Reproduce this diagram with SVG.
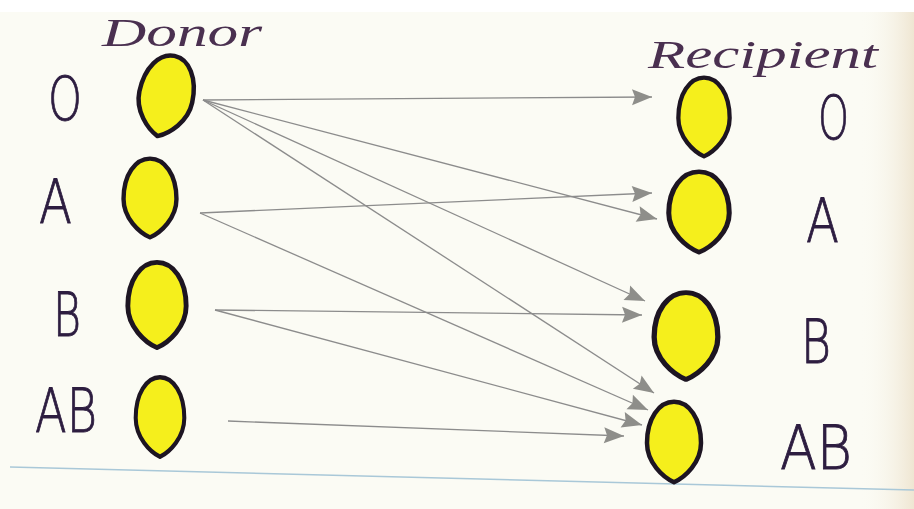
<svg xmlns="http://www.w3.org/2000/svg" width="914" height="509" viewBox="0 0 914 509">
<defs>
<style>
.hand{font-family:"DejaVu Sans","Liberation Sans",sans-serif;font-weight:300;font-size:60px;fill:#2d1d40;stroke:#2d1d40;stroke-width:0.9;}
.title{font-family:"Liberation Serif","DejaVu Serif",serif;font-style:italic;font-size:40px;fill:#4a3050;}
.drop{fill:#f5ef1c;stroke:#1d1522;stroke-width:4.5;stroke-linejoin:round;}
.edge{stroke:#8c8c8c;stroke-width:1.3;fill:none;marker-end:url(#arrow);}
</style>
<marker id="arrow" markerUnits="userSpaceOnUse" markerWidth="24" markerHeight="20" viewBox="-22 -10 24 20" refX="0" refY="0" orient="auto">
<path d="M0,0 L-20,-8 L-17,0 L-20,8 Z" fill="#8e8e8a"/>
</marker>
<path id="drop" d="M0,41 C-11,36 -27,21 -27,1 C-27,-24 -15,-41 0,-41 C15,-41 27,-24 27,1 C27,21 11,36 0,41 Z"/>
<linearGradient id="edgeShade" x1="0" y1="0" x2="1" y2="0">
<stop offset="0" stop-color="#fbfaf3" stop-opacity="0"/>
<stop offset="1" stop-color="#efe6d2" stop-opacity="1"/>
</linearGradient>
</defs>
<rect x="0" y="0" width="914" height="509" fill="#ffffff"/>
<rect x="0" y="12" width="914" height="497" fill="#fbfbf4"/>
<rect x="860" y="12" width="54" height="497" fill="url(#edgeShade)"/>
<line x1="10" y1="467" x2="914" y2="490" stroke="#a9c8d8" stroke-width="1.5"/>

<text class="title" x="102" y="46" textLength="160" lengthAdjust="spacingAndGlyphs">Donor</text>
<text class="title" x="648" y="68" textLength="230" lengthAdjust="spacingAndGlyphs">Recipient</text>

<g id="connectors">
<line class="edge" x1="203" y1="100" x2="652" y2="97"/>
<line class="edge" x1="203" y1="100" x2="657" y2="219"/>
<line class="edge" x1="203" y1="100" x2="645" y2="301"/>
<line class="edge" x1="203" y1="100" x2="654" y2="393"/>
<line class="edge" x1="200" y1="213" x2="652" y2="193"/>
<line class="edge" x1="200" y1="213" x2="648" y2="410"/>
<line class="edge" x1="215" y1="310" x2="642" y2="315"/>
<line class="edge" x1="215" y1="310" x2="642" y2="425"/>
<line class="edge" x1="228" y1="421" x2="624" y2="436"/>
</g>

<g id="donor-O">
<use href="#drop" class="drop" transform="translate(166,96) rotate(12)"/>
<text class="hand" x="48" y="120" textLength="34" lengthAdjust="spacingAndGlyphs">O</text>
</g>
<g id="donor-A">
<use href="#drop" class="drop" transform="translate(150,198) scale(0.98,0.96)"/>
<text class="hand" x="39" y="223" textLength="33" lengthAdjust="spacingAndGlyphs">A</text>
</g>
<g id="donor-B">
<use href="#drop" class="drop" transform="translate(157,305) scale(1.08,1.04)"/>
<text class="hand" x="53" y="336" textLength="28" lengthAdjust="spacingAndGlyphs">B</text>
</g>
<g id="donor-AB">
<use href="#drop" class="drop" transform="translate(160,417) scale(0.9,0.97)"/>
<text class="hand" x="35" y="432" textLength="62" lengthAdjust="spacingAndGlyphs">AB</text>
</g>

<g id="recipient-O">
<use href="#drop" class="drop" transform="translate(704,117) scale(0.95,0.96)"/>
<text class="hand" x="818" y="139" textLength="31" lengthAdjust="spacingAndGlyphs">O</text>
</g>
<g id="recipient-A">
<use href="#drop" class="drop" transform="translate(699,212) scale(1.12,0.98)"/>
<text class="hand" x="806" y="242" textLength="33" lengthAdjust="spacingAndGlyphs">A</text>
</g>
<g id="recipient-B">
<use href="#drop" class="drop" transform="translate(686,336) scale(1.18,1.06)"/>
<text class="hand" x="801" y="363" textLength="30" lengthAdjust="spacingAndGlyphs">B</text>
</g>
<g id="recipient-AB">
<use href="#drop" class="drop" transform="translate(674,442) scale(1.0,0.98)"/>
<text class="hand" x="780" y="469" textLength="72" lengthAdjust="spacingAndGlyphs">AB</text>
</g>
</svg>
